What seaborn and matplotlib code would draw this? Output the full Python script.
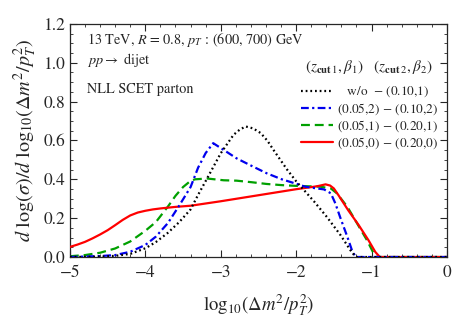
import seaborn as sns
import pandas as pd
import matplotlib.pyplot as plt
import numpy as np
from matplotlib.ticker import MultipleLocator

x_wo = [-5, -4.6, -4.4, -4.2, -4.0, -3.86, -3.7, -3.55, -3.4, -3.3, -3.18, -3.0, -2.83, -2.75, -2.67, -2.57,
        -2.47, -2.38, -2.30, -2.12, -2.0, -1.92, -1.76, -1.59, -1.41, -1.28, -1.22, -1.2, 0]
y_wo = [0, 0.002, 0.006, 0.016, 0.045, 0.077, 0.125, 0.18, 0.245, 0.32, 0.405, 0.534, 0.629, 0.655, 0.672, 0.662,
        0.638, 0.598, 0.551, 0.45, 0.39, 0.355, 0.285, 0.205, 0.112, 0.035, 0.005, 0, 0]

x_b2 = [-5, -4.6, -4.4, -4.2, -4.0, -3.86, -3.7, -3.55, -3.4, -3.3, -3.2, -3.1, -2.96, -2.79, -2.59, -2.39,
        -2.19, -1.99, -1.88, -1.76, -1.63, -1.54, -1.48, -1.41, -1.32, -1.26, -1.21, 0]
y_b2 = [0, 0.005, 0.01, 0.027, 0.062, 0.105, 0.175, 0.265, 0.36, 0.46, 0.535, 0.586, 0.551, 0.508, 0.469, 0.431,
        0.40, 0.376, 0.362, 0.355, 0.348, 0.328, 0.276, 0.198, 0.103, 0.035, 0, 0]

x_b1 = [-5, -4.8, -4.6, -4.4, -4.2, -4.0, -3.86, -3.7, -3.6, -3.5, -3.4, -3.34, -3.18, -2.96, -2.79, -2.59,
        -2.39, -2.19, -1.99, -1.68, -1.54, -1.46, -1.32, -1.19, -1.06, -0.97, -0.93, 0]
y_b1 = [0.004, 0.01, 0.022, 0.044, 0.08, 0.135, 0.18, 0.26, 0.315, 0.36, 0.392, 0.40, 0.404, 0.395, 0.393, 0.385,
        0.376, 0.37, 0.366, 0.362, 0.353, 0.328, 0.258, 0.172, 0.086, 0.017, 0, 0]

x_b0 = [-5, -4.9, -4.8, -4.7, -4.6, -4.5, -4.4, -4.3, -4.2, -4.1, -4.0, -3.9, -3.8, -3.6, -3.4, -3.0, -2.5,
        -2.0, -1.76, -1.7, -1.61, -1.55, -1.50, -1.44, -1.31, -1.17, -1.04, -0.95, -0.89, 0]
y_b0 = [0.052, 0.064, 0.078, 0.096, 0.116, 0.138, 0.164, 0.191, 0.214, 0.229, 0.238, 0.245, 0.25, 0.258, 0.264,
        0.287, 0.318, 0.349, 0.362, 0.366, 0.374, 0.368, 0.353, 0.319, 0.241, 0.164, 0.086, 0.026, 0, 0]

labels = [r"   w/o  $-$ (0.10,1)", r"(0.05,2) $-$ (0.10,2)", r"(0.05,1) $-$ (0.20,1)", r"(0.05,0) $-$ (0.20,0)"]
header = r"$(z_{\mathbf{cut}\,1},\beta_1)$   $(z_{\mathbf{cut}\,2},\beta_2)$"

sns.set_style("ticks")
plt.rcParams['font.family'] = ['STIXGeneral']
plt.rcParams['mathtext.fontset'] = 'stix'

fig = plt.figure(figsize=(4.57, 3.27), dpi=100)
ax = fig.add_axes([0.153, 0.214, 0.825, 0.713])

series = [
    (x_wo, y_wo, 'black', (0.8, 1.3), 5),
    (x_b2, y_b2, '#0000ee', (3.5, 1.5, 1, 1.5), 4),
    (x_b1, y_b1, '#00a000', (4, 2.2), 2),
    (x_b0, y_b0, '#ff0000', None, 3),
]
for (xs, ys, col, dash, z), lab in zip(series, labels):
    df = pd.DataFrame({'x': xs, 'y': ys})
    kw = dict(color=col, linewidth=1.6, label=lab, zorder=z)
    if dash is not None:
        kw['dashes'] = dash
    sns.lineplot(data=df, x='x', y='y', ax=ax, sort=False, estimator=None, **kw)

ax.set_xlim(-5, 0)
ax.set_ylim(0, 1.2)
ax.xaxis.set_major_locator(MultipleLocator(1))
ax.xaxis.set_minor_locator(MultipleLocator(0.2))
ax.yaxis.set_major_locator(MultipleLocator(0.2))
ax.yaxis.set_minor_locator(MultipleLocator(0.05))
ax.yaxis.set_major_formatter(plt.FormatStrFormatter('%.1f'))
ax.tick_params(which='both', direction='in', top=True, right=True, labelsize=12.5)
ax.tick_params(which='major', length=5, width=0.8)
ax.tick_params(which='minor', length=2.5, width=0.6)
ax.tick_params(axis='x', pad=6)
for s in ax.spines.values():
    s.set_linewidth(0.9)

ax.set_xlabel(r"$\mathrm{log}_{10}(\Delta m^2/p_T^2)$", fontsize=13.5, labelpad=8)
ax.set_ylabel(r"$d\ \mathrm{log}(\sigma)/d\ \mathrm{log}_{10}(\Delta m^2/p_T^2)$", fontsize=14.5, labelpad=3)

ax.text(0.045, 0.93, r"13 TeV, $R$ = 0.8, $p_T$ : (600, 700) GeV", transform=ax.transAxes, fontsize=10.3, va='center')
ax.text(0.045, 0.845, r"$pp \rightarrow$ dijet", transform=ax.transAxes, fontsize=10.3, va='center')
ax.text(0.045, 0.72, "NLL SCET parton", transform=ax.transAxes, fontsize=10.3, va='center')
ax.text(0.963, 0.815, header, transform=ax.transAxes, fontsize=11, ha='right', va='center')

leg = ax.legend(loc='upper right', bbox_to_anchor=(1.0, 0.778), frameon=False, fontsize=9.5,
                handlelength=2.4, handletextpad=0.3, labelspacing=0.12, borderaxespad=0.3)
leg.set_zorder(10)

fig.savefig("out.png", dpi=100)
